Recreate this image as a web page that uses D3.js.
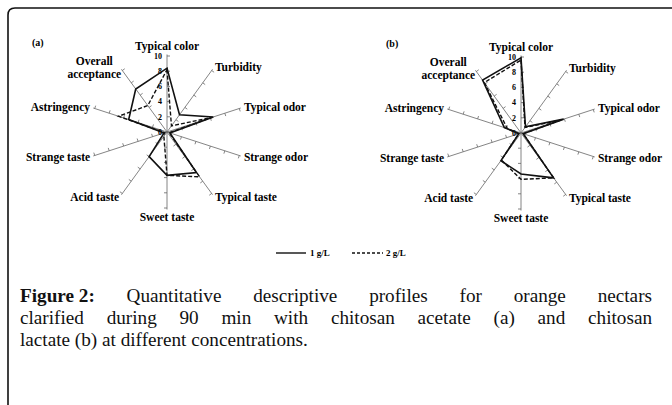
<!DOCTYPE html>
<html>
<head>
<meta charset="utf-8">
<script src="https://cdn.jsdelivr.net/npm/d3@7"></script>
<style>
  body { margin: 0; background: #fff; }
  svg { display: block; font-family: "Liberation Serif", "Times New Roman", serif; }
</style>
</head>
<body>
<svg id="chart" width="672" height="405"></svg>
<script>
// sensory attributes, clockwise from the top
var attributes = ["Typical color", "Turbidity", "Typical odor", "Strange odor", "Typical taste",
                  "Sweet taste", "Acid taste", "Strange taste", "Astringency", "Overall acceptance"];
var tickValues = [0, 2, 4, 6, 8, 10];

// (a) chitosan acetate
var acetate1 = [8.4, 2.8, 6.4, 0.4, 6.6, 5.7, 4.0, 0.4, 5.3, 7.0];
var acetate2 = [8.2, 1.0, 6.2, 0.3, 7.3, 5.7, 0.7, 0.3, 6.7, 4.3];
// (b) chitosan lactate
var lactate1 = [9.9, 1.0, 5.9, 0.3, 7.3, 5.4, 4.5, 0.3, 2.3, 8.6];
var lactate2 = [9.6, 0.9, 5.4, 0.3, 7.3, 6.1, 4.4, 0.3, 1.9, 8.2];

var seriesNames = ["1 g/L", "2 g/L"];
var captionLines = [
  "Quantitative descriptive profiles for orange nectars",
  "clarified during 90 min with chitosan acetate (a) and chitosan",
  "lactate (b) at different concentrations."
];

var svg = d3.select('#chart');

// frame, only top and left edges show
svg.append('path')
  .attr('d', 'M8,410 L8,15 Q8,8 15,8 L680,8')
  .attr('fill', 'none')
  .attr('stroke', '#111')
  .attr('stroke-width', 1.6);

var R = 76;
var r = d3.scaleLinear().domain([0, 10]).range([0, R]);
var angle = d3.scaleLinear().domain([0, attributes.length]).range([0, 2 * Math.PI]);

function pt(i, v) {
  var a = angle(i);
  return [Math.sin(a) * r(v), -Math.cos(a) * r(v)];
}

function drawRadar(cx, cy, tag, s1, s2) {
  var g = svg.append('g').attr('transform', 'translate(' + cx + ',' + cy + ')');

  // axes
  g.selectAll('line.axis')
    .data(attributes)
    .enter()
    .append('line')
    .attr('class', 'axis')
    .attr('x1', 0).attr('y1', 0)
    .attr('x2', function(d, i) { return pt(i, 10.2)[0]; })
    .attr('y2', function(d, i) { return pt(i, 10.2)[1]; })
    .attr('stroke', '#666')
    .attr('stroke-width', 0.8);

  // tick marks every 2 units
  attributes.forEach(function(d, i) {
    var a = angle(i);
    var nx = Math.cos(a), ny = Math.sin(a);
    g.selectAll(null)
      .data(tickValues.slice(1))
      .enter()
      .append('line')
      .attr('x1', function(v) { return pt(i, v)[0]; })
      .attr('y1', function(v) { return pt(i, v)[1]; })
      .attr('x2', function(v) { return pt(i, v)[0] + nx * 3; })
      .attr('y2', function(v) { return pt(i, v)[1] + ny * 3; })
      .attr('stroke', '#666')
      .attr('stroke-width', 0.8);
  });

  // scale numbers on the top axis
  g.selectAll('text.tick')
    .data(tickValues)
    .enter()
    .append('text')
    .attr('class', 'tick')
    .attr('x', -5)
    .attr('y', function(v) { return -r(v); })
    .attr('dy', '0.35em')
    .attr('text-anchor', 'end')
    .attr('font-size', 8)
    .attr('font-weight', 'bold')
    .text(function(v) { return v; });

  // attribute labels
  attributes.forEach(function(name, i) {
    var a = angle(i);
    var sx = Math.sin(a);
    var rr = (i === 0) ? 10 * 1.13 : (i === 5 ? 10 * 1.12 : 10 * 1.05);
    var p = pt(i, rr);
    var words = (name === "Overall acceptance") ? ["Overall", "acceptance"] : [name];
    var t = g.append('text')
      .attr('font-size', 11.5)
      .attr('font-weight', 'bold');
    if (words.length > 1) {
      t.attr('text-anchor', 'middle');
      words.forEach(function(w, k) {
        t.append('tspan').attr('x', 0).attr('y', p[1] + (k - 0.5) * 12.3).attr('dy', '0.35em').text(w);
      });
      var w = t.node().getBBox().width;
      t.selectAll('tspan').attr('x', p[0] - w / 2 + 1);
    } else {
      var anchor = Math.abs(sx) < 0.01 ? 'middle' : (sx > 0 ? 'start' : 'end');
      t.attr('x', p[0] + (sx > 0.01 ? 1 : (sx < -0.01 ? -1 : 0)))
        .attr('y', p[1])
        .attr('dy', '0.35em')
        .attr('text-anchor', anchor)
        .text(name);
    }
  });

  var line = d3.lineRadial()
    .angle(function(d, i) { return angle(i); })
    .radius(function(d) { return r(d); })
    .curve(d3.curveLinearClosed);

  g.append('path')
    .attr('d', line(s2))
    .attr('fill', 'none')
    .attr('stroke', '#111')
    .attr('stroke-width', 1.4)
    .attr('stroke-dasharray', '4,2');

  g.append('path')
    .attr('d', line(s1))
    .attr('fill', 'none')
    .attr('stroke', '#111')
    .attr('stroke-width', 1.6);

  svg.append('text')
    .attr('x', cx - 135)
    .attr('y', cy - 86)
    .attr('font-size', 10)
    .attr('font-weight', 'bold')
    .text(tag);
}

drawRadar(167, 132, '(a)', acetate1, acetate2);
drawRadar(521, 133, '(b)', lactate1, lactate2);

// legend
var leg = svg.append('g').attr('transform', 'translate(276,253)');
leg.append('line').attr('x1', 0).attr('x2', 30).attr('stroke', '#111').attr('stroke-width', 1.4);
leg.append('text').attr('x', 34).attr('dy', '0.35em').attr('font-size', 9).attr('font-weight', 'bold').text(seriesNames[0]);
leg.append('line').attr('x1', 76).attr('x2', 107).attr('stroke', '#111').attr('stroke-width', 1.4).attr('stroke-dasharray', '3,2');
leg.append('text').attr('x', 110).attr('dy', '0.35em').attr('font-size', 9).attr('font-weight', 'bold').text(seriesNames[1]);

// caption, justified lines
var capLeft = 20, capRight = 652, capSize = 19.2;
var baselines = [302, 324, 346];
captionLines.forEach(function(txt, li) {
  var words = txt.split(' ');
  if (li === 0) words.unshift('Figure 2:');
  var g = svg.append('g');
  var nodes = words.map(function(w, k) {
    var t = g.append('text')
      .attr('y', baselines[li])
      .attr('font-size', capSize)
      .attr('fill', '#111')
      .text(w);
    if (li === 0 && k === 0) t.attr('font-weight', 'bold');
    return t;
  });
  var widths = nodes.map(function(n) { return n.node().getComputedTextLength(); });
  var total = d3.sum(widths);
  var gap = (li < captionLines.length - 1) ? (capRight - capLeft - total) / (words.length - 1) : capSize * 0.25;
  var x = capLeft;
  nodes.forEach(function(n, k) {
    n.attr('x', x);
    x += widths[k] + gap;
  });
});
</script>
</body>
</html>
